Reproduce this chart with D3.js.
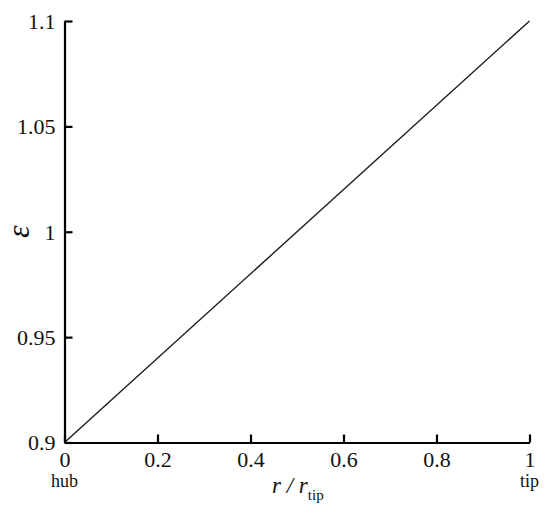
<!DOCTYPE html>
<html><head><meta charset="utf-8">
<script src="https://cdn.jsdelivr.net/npm/d3@7"></script>
<style>body{margin:0;background:#fff}</style>
</head><body>
<svg id="c" width="550" height="514"></svg>
<script>
const xTicks = [0, 0.2, 0.4, 0.6, 0.8, 1];
const xTickLabels = ["0", "0.2", "0.4", "0.6", "0.8", "1"];
const yTicks = [0.9, 0.95, 1, 1.05, 1.1];
const yTickLabels = ["0.9", "0.95", "1", "1.05", "1.1"];
const rRatio = [0, 1];
const epsilon = [0.9, 1.1];

const svg = d3.select("#c");
const x = d3.scaleLinear().domain([0, 1]).range([64.5, 529.5]);
const y = d3.scaleLinear().domain([0.9, 1.1]).range([442.5, 21]);
const font = "'Liberation Serif', 'Times New Roman', serif";

// line
svg.append("path")
  .datum(rRatio.map((v, i) => [v, epsilon[i]]))
  .attr("d", d3.line().x(d => x(d[0])).y(d => y(d[1])))
  .attr("fill", "none").attr("stroke", "#1a1a1a").attr("stroke-width", 1.4);

// x axis
const xa = svg.append("g").attr("transform", `translate(0,${y(0.9)})`)
  .call(d3.axisBottom(x).tickValues(xTicks).tickFormat((d, i) => xTickLabels[i]).tickSizeInner(-8).tickSizeOuter(0));
// y axis
const ya = svg.append("g").attr("transform", `translate(${x(0)},0)`)
  .call(d3.axisLeft(y).tickValues(yTicks).tickFormat((d, i) => yTickLabels[i]).tickSizeInner(-8).tickSizeOuter(0).tickPadding(9));
[xa, ya].forEach(a => {
  a.attr("font-family", font);
  a.select(".domain").attr("stroke", "#000").attr("stroke-width", 2.2);
  a.selectAll(".tick line").attr("stroke", "#000").attr("stroke-width", 2.2);
  a.selectAll(".tick text").attr("font-family", font).attr("font-size", 22).attr("fill", "#111");
});
xa.selectAll(".tick text").attr("y", 24.5).attr("dy", 0);
ya.selectAll(".tick text").attr("dy", "0.33em");

// hub / tip
svg.append("text").attr("x", x(0)).attr("y", 487).attr("text-anchor", "middle")
  .attr("font-family", font).attr("font-size", 18).attr("fill", "#111").text("hub");
svg.append("text").attr("x", x(1)).attr("y", 487).attr("text-anchor", "middle")
  .attr("font-family", font).attr("font-size", 18).attr("fill", "#111").text("tip");

// x label
const xl = svg.append("text").attr("x", 272).attr("y", 493).attr("text-anchor", "start")
  .attr("font-family", font).attr("font-size", 23).attr("fill", "#111");
xl.append("tspan").attr("font-style", "italic").text("r / r");
xl.append("tspan").attr("font-size", 15).attr("dy", 7).text("tip");

// y label
svg.append("text").attr("transform", `translate(29,${y(1)}) rotate(-90)`).attr("text-anchor", "middle")
  .attr("font-family", font).attr("font-size", 32).attr("font-style", "italic").attr("fill", "#111").text("ε");
</script>
</body></html>
